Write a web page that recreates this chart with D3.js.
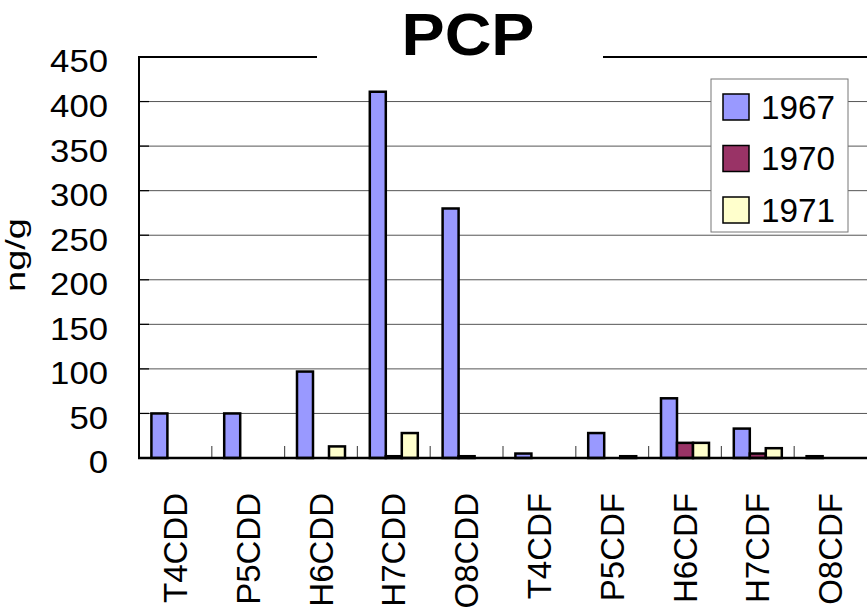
<!DOCTYPE html>
<html>
<head>
<meta charset="utf-8">
<script src="https://cdn.jsdelivr.net/npm/d3@7"></script>
<style>
  body { margin: 0; background: #fff; }
  svg { display: block; font-family: "Liberation Sans", Arial, sans-serif; }
</style>
</head>
<body>
<div id="chart"></div>
<script>
// data
var categories = ['T4CDD','P5CDD','H6CDD','H7CDD','O8CDD','T4CDF','P5CDF','H6CDF','H7CDF','O8CDF'];
var years = ['1967','1970','1971'];
var v1967 = [50, 50, 97, 411, 280, 5, 28, 67, 33, 2];
var v1970 = [0, 0, 0, 2, 2, 0, 0, 17, 5, 0];
var v1971 = [0, 0, 13, 28, 0, 0, 2, 17, 11, 0];
var yTicks = [0, 50, 100, 150, 200, 250, 300, 350, 400, 450];
var colors = ['#9999ff', '#993366', '#ffffcc'];

var width = 867, height = 611;
var plotLeft = 139, plotRight = 867, plotTop = 57, plotBottom = 458;

var svg = d3.select('#chart').append('svg')
    .attr('width', width)
    .attr('height', height);

var x = d3.scaleBand().domain(categories).range([plotLeft, plotRight]).padding(0);
var xs = d3.scaleBand().domain(years).range([0, x.bandwidth()]).paddingInner(0).paddingOuter(0.775);
var y = d3.scaleLinear().domain([0, 450]).range([plotBottom, plotTop]);
var color = d3.scaleOrdinal().domain(years).range(colors);

// gridlines
svg.append('g').selectAll('line')
    .data(yTicks.filter(function(t){ return t > 0 && t < 450; }))
    .enter().append('line')
    .attr('x1', plotLeft).attr('x2', plotRight)
    .attr('y1', function(d){ return y(d); })
    .attr('y2', function(d){ return y(d); })
    .attr('stroke', '#555').attr('stroke-width', 1);

// left axis labels
var yAxis = d3.axisLeft(y).tickValues(yTicks).tickSize(0).tickPadding(31);
var gy = svg.append('g').attr('transform', 'translate(' + plotLeft + ',0)').call(yAxis);
gy.select('.domain').remove();
gy.selectAll('text')
    .attr('font-size', 31)
    .attr('font-family', '"Liberation Sans", Arial, sans-serif')
    .attr('fill', '#000')
    .attr('dy', '0.32em')
    .attr('transform', 'translate(0,5)')
    .attr('textLength', function(d){ return String(d).length * 19.3; })
    .attr('lengthAdjust', 'spacingAndGlyphs');
// inner ticks
svg.append('g').selectAll('line')
    .data(yTicks)
    .enter().append('line')
    .attr('x1', plotLeft).attr('x2', plotLeft + 10)
    .attr('y1', function(d){ return y(d); })
    .attr('y2', function(d){ return y(d); })
    .attr('stroke', '#000').attr('stroke-width', 1.2);

// category ticks on the baseline
svg.append('g').selectAll('line')
    .data(categories.slice(1))
    .enter().append('line')
    .attr('x1', function(d){ return x(d); })
    .attr('x2', function(d){ return x(d); })
    .attr('y1', plotBottom).attr('y2', plotBottom - 12)
    .attr('stroke', '#555').attr('stroke-width', 1.2);

// bars
var rows = categories.map(function(c, i){
    return { cat: c, vals: [v1967[i], v1970[i], v1971[i]] };
});
var groups = svg.append('g').selectAll('g')
    .data(rows)
    .enter().append('g')
    .attr('transform', function(d){ return 'translate(' + x(d.cat) + ',0)'; });
groups.selectAll('rect')
    .data(function(d){
        return d.vals.map(function(v, j){ return { year: years[j], value: v }; })
            .filter(function(e){ return e.value > 0; });
    })
    .enter().append('rect')
    .attr('x', function(d){ return xs(d.year); })
    .attr('width', xs.bandwidth())
    .attr('y', function(d){ return y(d.value); })
    .attr('height', function(d){ return plotBottom - y(d.value); })
    .attr('fill', function(d){ return color(d.year); })
    .attr('stroke', '#000').attr('stroke-width', 2.5);

// plot frame: left, bottom and the broken top line
svg.append('line').attr('x1', plotLeft).attr('x2', plotLeft).attr('y1', plotTop).attr('y2', plotBottom)
    .attr('stroke', '#000').attr('stroke-width', 2);
svg.append('line').attr('x1', plotLeft - 1).attr('x2', plotRight).attr('y1', plotBottom).attr('y2', plotBottom)
    .attr('stroke', '#000').attr('stroke-width', 2.5);
svg.append('line').attr('x1', plotLeft - 1).attr('x2', 317).attr('y1', plotTop).attr('y2', plotTop)
    .attr('stroke', '#000').attr('stroke-width', 2);
svg.append('line').attr('x1', 603).attr('x2', plotRight).attr('y1', plotTop).attr('y2', plotTop)
    .attr('stroke', '#000').attr('stroke-width', 2);

// category labels
svg.append('g').selectAll('text')
    .data(categories)
    .enter().append('text')
    .attr('transform', function(d){
        return 'translate(' + (x(d) + x.bandwidth() / 2) + ',493) rotate(-90)';
    })
    .attr('text-anchor', 'end')
    .attr('dominant-baseline', 'central')
    .attr('font-size', 33)
    .text(function(d){ return d; });

// title
svg.append('text')
    .attr('x', 468).attr('y', 55)
    .attr('text-anchor', 'middle')
    .attr('font-size', 60)
    .attr('font-weight', 'bold')
    .attr('textLength', 133)
    .attr('lengthAdjust', 'spacingAndGlyphs')
    .text('PCP');

// y axis title
svg.append('text')
    .attr('transform', 'translate(25,255) rotate(-90)')
    .attr('text-anchor', 'middle')
    .attr('font-size', 28)
    .attr('textLength', 74)
    .attr('lengthAdjust', 'spacingAndGlyphs')
    .text('ng/g');

// legend
var legend = svg.append('g');
legend.append('rect')
    .attr('x', 711).attr('y', 79).attr('width', 137).attr('height', 153)
    .attr('fill', '#fff').attr('stroke', '#777').attr('stroke-width', 1);
var legendY = d3.scalePoint().domain(years).range([107, 210]);
var item = legend.selectAll('g.item')
    .data(years)
    .enter().append('g').attr('class', 'item');
item.append('rect')
    .attr('x', 723).attr('y', function(d){ return legendY(d) - 13; })
    .attr('width', 26).attr('height', 26)
    .attr('fill', function(d){ return color(d); })
    .attr('stroke', '#000').attr('stroke-width', 1.5);
item.append('text')
    .attr('x', 761).attr('y', function(d){ return legendY(d); })
    .attr('dominant-baseline', 'central')
    .attr('font-size', 33)
    .attr('textLength', 74)
    .attr('lengthAdjust', 'spacingAndGlyphs')
    .text(function(d){ return d; });
</script>
</body>
</html>
